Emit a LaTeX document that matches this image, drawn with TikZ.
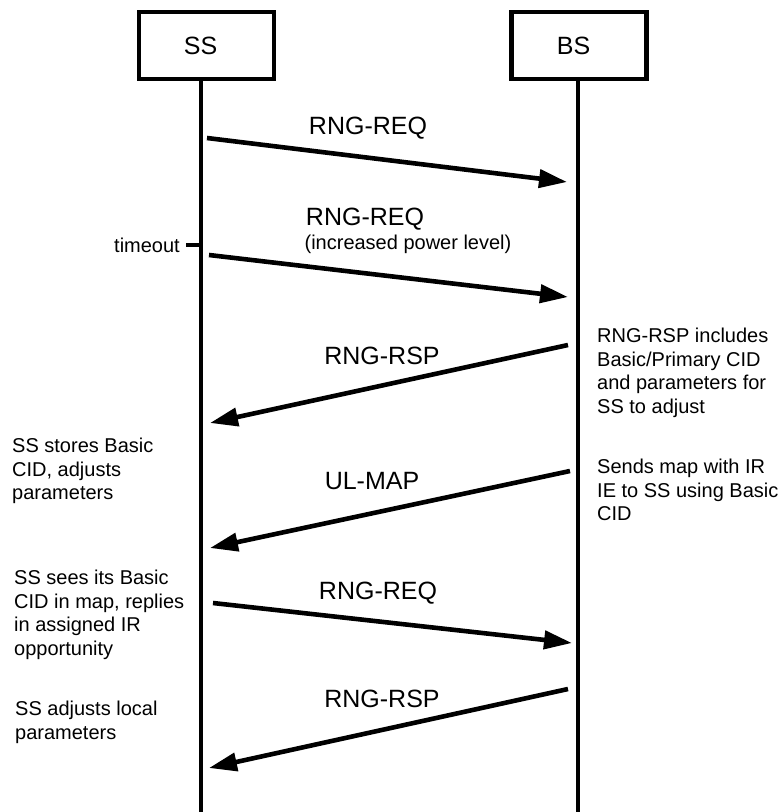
\documentclass[tikz,border=0pt]{standalone}
\usepackage{fontspec}
\setmainfont{Liberation Sans}
\usetikzlibrary{arrows.meta}
\begin{document}
\begin{tikzpicture}[x=1pt,y=-1pt,
  entity/.style={draw,line width=4.2pt,minimum width=135pt,minimum height=67pt,inner sep=0pt,
    font=\fontsize{25}{30}\selectfont},
  lifeline/.style={line width=3.6pt},
  msg/.style={line width=4.6pt,-{Triangle[length=28pt,width=18pt]}},
  msglabel/.style={inner sep=0pt,anchor=base,font=\fontsize{25}{30}\selectfont},
  smalllabel/.style={inner sep=0pt,anchor=base,font=\fontsize{20}{24}\selectfont},
  note/.style={inner sep=0pt,anchor=north west,align=left,font=\fontsize{20}{23.5}\selectfont}]
\useasboundingbox (0,0) rectangle (783,812);

% entities
\node[entity] (ss) at (206.5,45.5) {};
\node[font=\fontsize{25}{30}\selectfont,inner sep=0pt,anchor=base] (sslbl) at (200.5,54) {SS};
\node[entity] (bs) at (579,45.5) {};
\node[font=\fontsize{25}{30}\selectfont,inner sep=0pt,anchor=base] (bslbl) at (573.5,54) {BS};

% lifelines
\coordinate (sstop) at (201,79);
\coordinate (ssbot) at (201,812);
\coordinate (bstop) at (578,79);
\coordinate (bsbot) at (578,812);
\draw[lifeline] (sstop) -- (ssbot);
\draw[lifeline] (bstop) -- (bsbot);

% message end points
\coordinate (a1) at (207,138);  \coordinate (b1) at (567,182);
\coordinate (a2) at (209,255);  \coordinate (b2) at (568,297);
\coordinate (a3) at (568,345);  \coordinate (b3) at (210,423);
\coordinate (a4) at (570,471);  \coordinate (b4) at (210,548);
\coordinate (a5) at (213,603);  \coordinate (b5) at (572,643);
\coordinate (a6) at (568,689);  \coordinate (b6) at (209,768);

\draw[msg] (a1) -- (b1);
\draw[msg] (a2) -- (b2);
\draw[msg] (a3) -- (b3);
\draw[msg] (a4) -- (b4);
\draw[msg] (a5) -- (b5);
\draw[msg] (a6) -- (b6);

% message labels
\node[msglabel] (l1) at (368,134) {RNG-REQ};
\node[msglabel] (l2) at (365,225) {RNG-REQ};
\node[smalllabel] (l2b) at (408,249) {(increased power level)};
\node[msglabel] (l3) at (382,364) {RNG-RSP};
\node[msglabel] (l4) at (372,489) {UL-MAP};
\node[msglabel] (l5) at (378,599) {RNG-REQ};
\node[msglabel] (l6) at (382,707) {RNG-RSP};

% timeout marker
\node[smalllabel,anchor=base east] (tmo) at (180,252) {timeout};
\coordinate (tick) at (186,245);
\coordinate (tickend) at (201,245);
\draw[line width=4.2pt] (tick) -- (tickend);

% notes
\node[note] (n1) at (597,328) {RNG-RSP includes\\Basic/Primary CID\\and parameters for\\SS to adjust};
\node[note] (n2) at (597,459) {Sends map with IR\\IE to SS using Basic\\CID};
\node[note] (n3) at (12,438) {SS stores Basic\\CID, adjusts\\parameters};
\node[note] (n4) at (14,570) {SS sees its Basic\\CID in map, replies\\in assigned IR\\opportunity};
\node[note] (n5) at (15,701) {SS adjusts local\\parameters};
\end{tikzpicture}
\end{document}
